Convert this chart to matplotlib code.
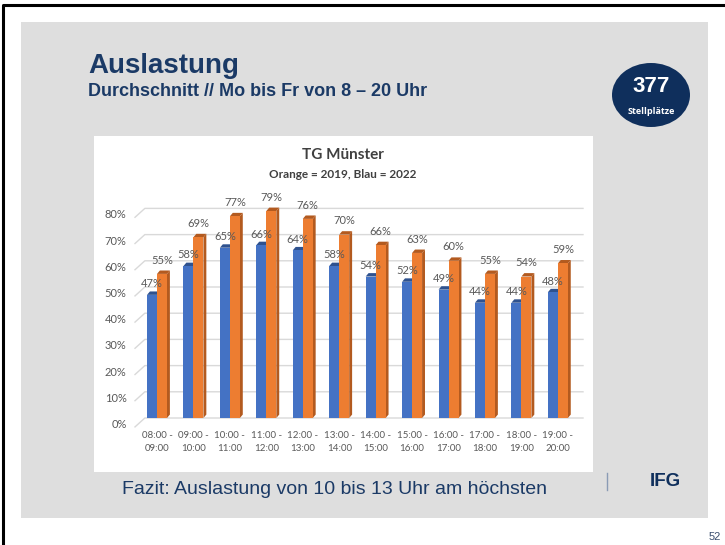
import matplotlib
matplotlib.use("Agg")
import matplotlib.pyplot as plt
import matplotlib.transforms as mtransforms
from matplotlib.patches import Rectangle, Ellipse, Polygon
import numpy as np

# data
slots = ["08:00 -\n09:00", "09:00 -\n10:00", "10:00 -\n11:00", "11:00 -\n12:00",
         "12:00 -\n13:00", "13:00 -\n14:00", "14:00 -\n15:00", "15:00 -\n16:00",
         "16:00 -\n17:00", "17:00 -\n18:00", "18:00 -\n19:00", "19:00 -\n20:00"]
blau_2022 = [47, 58, 65, 66, 64, 58, 54, 52, 49, 44, 44, 48]
orange_2019 = [55, 69, 77, 79, 76, 70, 66, 63, 60, 55, 54, 59]
yticks = [0, 10, 20, 30, 40, 50, 60, 70, 80]

W, H = 725, 545
NAVY = "#1B3A66"
BLUE, BLUE_D = "#4472C4", "#2F528F"
ORANGE, ORANGE_D = "#ED7D31", "#B35A1F"
LABEL = "#595959"
CHART_FONT = ["Lato", "DejaVu Sans"]


def fx(x):
    return x / W


def fy(y):
    return 1 - y / H


fig = plt.figure(figsize=(W / 100, H / 100), dpi=100)
fig.patch.set_facecolor("white")

# scan edge (left + top only), grey panel and white chart box (kept below the axes)
fig.lines.append(plt.Line2D([fx(3), fx(3), fx(725)], [fy(545), fy(5), fy(5)],
                            transform=fig.transFigure, color="black", lw=2.2, zorder=-3))
fig.patches.append(Rectangle((fx(21), fy(518)), fx(708) - fx(21), fy(22) - fy(518),
                             transform=fig.transFigure, fc="#DEDEDE", ec="none", zorder=-3))
fig.patches.append(Rectangle((fx(94), fy(472)), fx(593) - fx(94), fy(136) - fy(472),
                             transform=fig.transFigure, fc="white", ec="none", zorder=-2))

# header
fig.text(fx(88), fy(66), "Auslastung", fontsize=20, fontweight="bold", color=NAVY,
         family="Liberation Sans", va="center")
fig.text(fx(88), fy(92), "Durchschnitt // Mo bis Fr von 8 \u2013 20 Uhr", fontsize=13,
         fontweight="bold", color=NAVY, family="Liberation Sans", va="center")

fig.patches.append(Ellipse((fx(651), fy(95)), fx(78), 64 / H, transform=fig.transFigure,
                           fc="#0F2F5C", ec="none"))
fig.text(fx(651), fy(86), "377", fontsize=16, fontweight="bold", color="white",
         family="Liberation Sans", ha="center", va="center")
fig.text(fx(651), fy(112), "Stellplätze", fontsize=6.5, fontweight="bold", color="white",
         family="Open Sans", ha="center", va="center")

# chart titles
fig.text(fx(343), fy(155), "TG Münster", fontsize=11, fontweight="bold", color="#404040",
         family=CHART_FONT, ha="center", va="center")
fig.text(fx(343), fy(174), "Orange = 2019, Blau = 2022", fontsize=8.5, fontweight="bold",
         color="#404040", family=CHART_FONT, ha="center", va="center")

# footer
fig.text(fx(122), fy(489), "Fazit: Auslastung von 10 bis 13 Uhr am höchsten", fontsize=14,
         color=NAVY, family="Liberation Sans", va="center")
fig.lines.append(plt.Line2D([fx(607), fx(607)], [fy(473), fy(490)], transform=fig.transFigure,
                            color="#8A9BB5", lw=1))
fig.text(fx(650), fy(482), "IFG", fontsize=13.5, fontweight="bold", color="#0F2F5C",
         family="Liberation Sans", va="center")
fig.text(fx(715), fy(537), "52", fontsize=8, color="#3A4E6E", family="Liberation Sans",
         ha="center", va="center")

# bar chart
ax = fig.add_axes([fx(135), fy(418), fx(583) - fx(135), 222.7 / H])
ax.set_xlim(-0.6036, 11.69)
ax.set_ylim(0, 85)
ax.set_facecolor("none")
for s in ax.spines.values():
    s.set_visible(False)

x = np.arange(len(slots))
w = 0.274
dx, dy = 0.08, 1.3

for v in yticks:
    ax.plot([-0.6036, -0.6036 + 0.27, 11.69], [v - 3.4, v, v], color="#D9D9D9", lw=1,
            clip_on=False, zorder=0)


def bar3d(xc, h, face, side):
    ax.add_patch(Polygon([(xc + w / 2, 0), (xc + w / 2 + dx, dy), (xc + w / 2 + dx, h + dy),
                          (xc + w / 2, h)], closed=True, fc=side, ec="none", zorder=2))
    ax.add_patch(Polygon([(xc - w / 2, h), (xc - w / 2 + dx, h + dy), (xc + w / 2 + dx, h + dy),
                          (xc + w / 2, h)], closed=True, fc=side, ec="none", zorder=2))


for i in range(len(slots)):
    bar3d(x[i] - w / 2, blau_2022[i], BLUE, BLUE_D)
    bar3d(x[i] + w / 2, orange_2019[i], ORANGE, ORANGE_D)

ax.bar(x - w / 2, blau_2022, width=w, color=BLUE, zorder=3)
ax.bar(x + w / 2, orange_2019, width=w, color=ORANGE, zorder=3)

for i in range(len(slots)):
    ax.annotate(f"{blau_2022[i]}%", (x[i] - w / 2, blau_2022[i]), xytext=(0, 4),
                textcoords="offset points", ha="center", va="bottom", fontsize=8,
                color=LABEL, family=CHART_FONT, zorder=5)
    ax.annotate(f"{orange_2019[i]}%", (x[i] + w / 2, orange_2019[i]), xytext=(0, 6),
                textcoords="offset points", ha="center", va="bottom", fontsize=8,
                color=LABEL, family=CHART_FONT, zorder=5)

ax.set_xticks(x)
ax.set_xticklabels(slots, fontsize=7, color=LABEL, family=CHART_FONT, linespacing=1.6)
ax.set_yticks(yticks)
ax.set_yticklabels([f"{v}%" for v in yticks], fontsize=8, color=LABEL, family=CHART_FONT)
ax.tick_params(length=0)
ax.tick_params(axis="x", pad=9)
ax.tick_params(axis="y", pad=6)
shift = mtransforms.ScaledTranslation(0, -4 / 72, fig.dpi_scale_trans)
for lab in ax.get_yticklabels():
    lab.set_transform(lab.get_transform() + shift)

fig.savefig("out.png", dpi=100)
